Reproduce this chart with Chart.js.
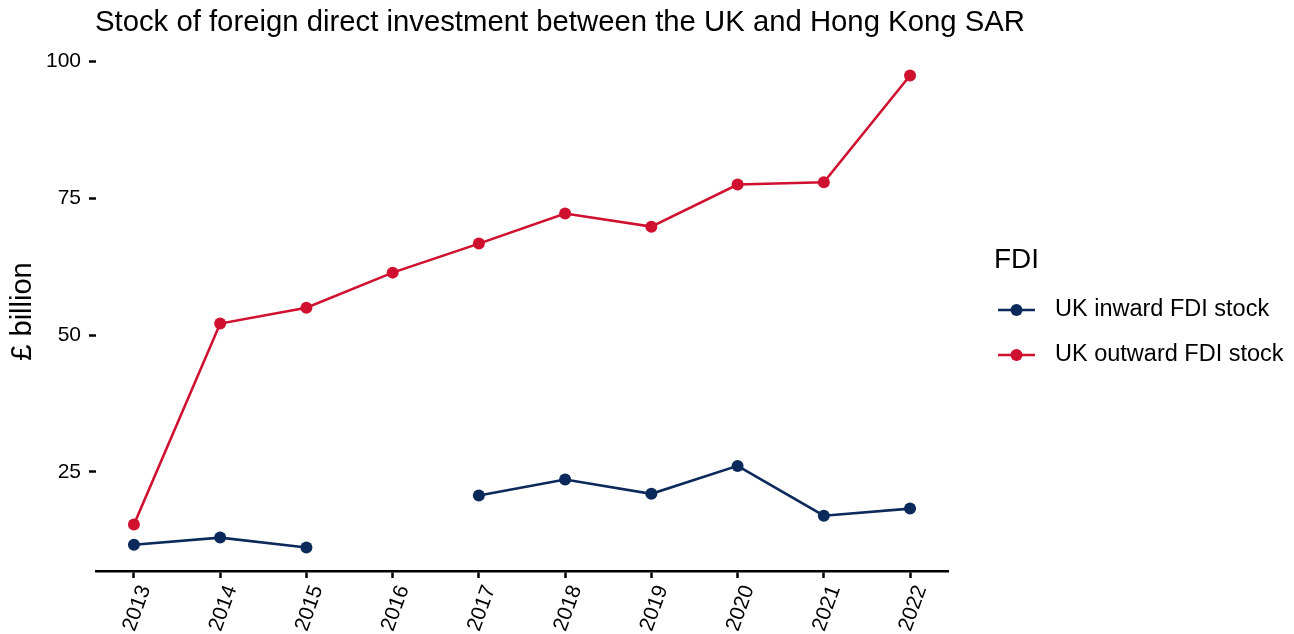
<!DOCTYPE html>
<html lang="en">
<head>
    <meta charset="UTF-8">
    <title>UK - Hong Kong SAR FDI</title>
    <script src="https://cdn.jsdelivr.net/npm/chart.js"></script>
    <style>
        html, body { margin: 0; padding: 0; background: #fff; }
        #wrap { width: 1294px; height: 634px; }
    </style>
</head>
<body>
    <div id="wrap"><canvas id="fdi-chart" width="1294" height="634"></canvas></div>

    <script>
        // data (£ billion)
        const years = [2013, 2014, 2015, 2016, 2017, 2018, 2019, 2020, 2021, 2022];
        const inwardStock = [11.7, 13.0, 11.2, null, 20.7, 23.6, 21.0, 26.1, 17.0, 18.3];
        const outwardStock = [15.4, 52.1, 55.0, 61.4, 66.7, 72.2, 69.8, 77.5, 77.9, 97.4];
        const yTicks = [25, 50, 75, 100];
        const seriesNames = ['UK inward FDI stock', 'UK outward FDI stock'];

        const titleText = 'Stock of foreign direct investment between the UK and Hong Kong SAR';
        const yTitle = '£ billion';
        const legendTitle = 'FDI';

        const NAVY = '#0b2a5b';
        const RED = '#d0102f';
        const FONT = '"Liberation Sans", Arial, sans-serif';

        Chart.defaults.font.family = FONT;
        Chart.defaults.color = '#000';

        // title, y-axis title and legend drawn by hand, ggplot style
        const decorPlugin = {
            id: 'decor',
            afterDraw(chart) {
                const ctx = chart.ctx;
                const area = chart.chartArea;
                ctx.save();
                ctx.fillStyle = '#000';
                ctx.font = '29.3px ' + FONT;
                ctx.textAlign = 'left';
                ctx.textBaseline = 'alphabetic';
                ctx.fillText(titleText, 95, 31);

                ctx.save();
                ctx.translate(23, (area.top + area.bottom) / 2);
                ctx.rotate(-Math.PI / 2);
                ctx.textAlign = 'center';
                ctx.textBaseline = 'middle';
                ctx.font = '29px ' + FONT;
                ctx.fillText(yTitle, 0, 0);
                ctx.restore();

                // legend
                ctx.font = '28px ' + FONT;
                ctx.textAlign = 'left';
                ctx.textBaseline = 'alphabetic';
                ctx.fillText(legendTitle, 994, 268);

                chart.data.datasets.forEach((ds, i) => {
                    const y = 310 + i * 45;
                    ctx.strokeStyle = ds.borderColor;
                    ctx.lineWidth = 2.6;
                    ctx.beginPath();
                    ctx.moveTo(998, y);
                    ctx.lineTo(1035, y);
                    ctx.stroke();
                    ctx.fillStyle = ds.backgroundColor;
                    ctx.beginPath();
                    ctx.arc(1016.5, y, 6, 0, Math.PI * 2);
                    ctx.fill();
                    ctx.fillStyle = '#000';
                    ctx.font = '23.5px ' + FONT;
                    ctx.textBaseline = 'middle';
                    ctx.fillText(ds.label, 1055, y);
                    ctx.textBaseline = 'alphabetic';
                });
                ctx.restore();
            }
        };

        const toPoints = vals => vals.map((v, i) => ({ x: years[i], y: v }));

        new Chart(document.getElementById('fdi-chart').getContext('2d'), {
            type: 'line',
            data: {
                datasets: [
                    {
                        label: seriesNames[0],
                        data: toPoints(inwardStock),
                        borderColor: NAVY,
                        backgroundColor: NAVY,
                        borderWidth: 2.6,
                        pointRadius: 6,
                        pointBorderWidth: 0,
                        spanGaps: false,
                        tension: 0
                    },
                    {
                        label: seriesNames[1],
                        data: toPoints(outwardStock),
                        borderColor: RED,
                        backgroundColor: RED,
                        borderWidth: 2.6,
                        pointRadius: 6,
                        pointBorderWidth: 0,
                        tension: 0
                    }
                ]
            },
            options: {
                responsive: false,
                animation: false,
                layout: { padding: { top: 52, right: 346, left: 0, bottom: 0 } },
                plugins: {
                    legend: { display: false },
                    title: { display: false },
                    tooltip: { enabled: false }
                },
                scales: {
                    x: {
                        type: 'linear',
                        min: 2012.56,
                        max: 2022.44,
                        afterBuildTicks: scale => { scale.ticks = years.map(v => ({ value: v })); },
                        afterFit: scale => { scale.height = 63; },
                        border: { display: true, color: '#000', width: 2.5 },
                        grid: { drawOnChartArea: false, drawTicks: true, tickLength: 7, tickColor: '#000', tickWidth: 2.5 },
                        ticks: {
                            autoSkip: false,
                            minRotation: 70,
                            maxRotation: 70,
                            padding: 4,
                            labelOffset: 11,
                            font: { size: 21 },
                            color: '#000',
                            callback: v => String(v)
                        }
                    },
                    y: {
                        min: 6.9,
                        max: 101.7,
                        afterBuildTicks: scale => { scale.ticks = yTicks.map(v => ({ value: v })); },
                        afterFit: scale => { scale.width = 96; },
                        border: { display: false },
                        grid: { drawOnChartArea: false, drawTicks: true, tickLength: 7, tickColor: '#000', tickWidth: 2.5 },
                        ticks: {
                            padding: 8,
                            font: { size: 21 },
                            color: '#000'
                        }
                    }
                }
            },
            plugins: [decorPlugin]
        });
    </script>
</body>
</html>
